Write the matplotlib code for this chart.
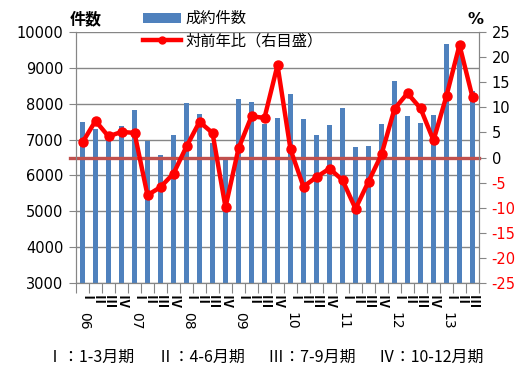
import matplotlib
matplotlib.use("Agg")
import matplotlib.pyplot as plt
from matplotlib.lines import Line2D
from matplotlib.patches import Patch
import matplotlib.transforms as mtransforms

# ---- data ----
years = ["06", "07", "08", "09", "10", "11", "12", "13"]
quarters = ["Ⅰ", "Ⅱ", "Ⅲ", "Ⅳ"]
counts = [7500, 7300, 7050, 7380, 7820, 6960, 6580, 7140,
          8020, 7700, 6900, 6440, 8140, 8060, 7440, 7610,
          8260, 7560, 7140, 7420, 7890, 6780, 6810, 7440,
          8640, 7670, 7470, 7690, 9660, 9680, 8360]
yoy = [3.0, 7.3, 4.2, 5.1, 4.9, -7.5, -5.9, -3.2,
       2.2, 7.1, 4.9, -9.9, 1.8, 8.2, 7.9, 18.4,
       1.6, -5.8, -3.9, -2.2, -4.5, -10.2, -4.8, 0.6,
       9.7, 12.8, 9.8, 3.4, 12.3, 22.4, 12.0]
q_labels = [quarters[i % 4] for i in range(len(counts))]
left_ticks = list(range(3000, 10001, 1000))
right_ticks = list(range(-25, 26, 5))
series_names = ["成約件数", "対前年比（右目盛）"]
footnote = "Ⅰ：1-3月期　  Ⅱ：4-6月期　  Ⅲ：7-9月期　  Ⅳ：10-12月期"

JP = ["Noto Sans CJK JP", "DejaVu Sans"]
NUM = ["DejaVu Sans"]
BAR = "#4F81BD"
GRID = "#868686"

W, H = 531, 379
fig = plt.figure(figsize=(W / 100, H / 100), dpi=100)
ax = fig.add_axes([76 / W, 1 - 283 / H, 403 / W, 251 / H])
ax2 = ax.twinx()

x = list(range(len(counts)))
ax.bar(x, counts, width=0.44, color=BAR, zorder=2)
ax.set_ylim(3000, 10000)
ax.set_xlim(-0.5, len(counts) - 0.5)
ax.set_yticks(left_ticks)
ax.yaxis.grid(True, color=GRID, linewidth=1.0, zorder=0)
ax.set_axisbelow(True)
for lab in ax.get_yticklabels():
    lab.set_fontfamily(NUM)
    lab.set_fontsize(10.5)
ax.tick_params(axis="y", length=5, color=GRID, pad=4)

# x ticks at category boundaries
ax.set_xticks([i - 0.5 for i in range(len(counts) + 1)])
ax.set_xticklabels([])
ax.tick_params(axis="x", length=7, color=GRID, direction="out")

for s in ["top"]:
    ax.spines[s].set_visible(False)
    ax2.spines[s].set_visible(False)
for s in ["left", "right", "bottom"]:
    ax.spines[s].set_color(GRID)
    ax2.spines[s].set_color(GRID)

# right axis
ax2.set_ylim(-25, 25)
ax2.set_yticks(right_ticks)
ax2.set_yticklabels([str(v) for v in right_ticks])
for v, lab in zip(right_ticks, ax2.get_yticklabels()):
    lab.set_fontfamily(NUM)
    lab.set_fontsize(10.5)
    lab.set_color("red" if v < 0 else "black")
ax2.tick_params(axis="y", length=5, color=GRID, pad=4)

ax2.axhline(0, xmin=-0.016, xmax=1.0, color="#C0504D", linewidth=2.4,
            clip_on=False, zorder=2)
ax2.plot(x, yoy, color="#FF0000", linewidth=3.2, marker="o", markersize=6.5,
         zorder=3, clip_on=False)

# category labels
trans = mtransforms.blended_transform_factory(ax.transData, fig.transFigure)
for i, q in enumerate(q_labels):
    ax.text(i, 1 - 295 / H, q, rotation=270, ha="center", va="top",
            fontsize=9.5, family=JP, transform=trans, fontweight="bold")
    if i % 4 == 0:
        ax.text(i + 0.1, 1 - 312 / H, years[i // 4], rotation=270, ha="center",
                va="top", fontsize=10, family=NUM, transform=trans)

# titles
fig.text(70 / W, 1 - 19 / H, "件数", fontsize=11.5, fontweight="bold",
         family=JP, va="center", ha="left")
fig.text(468 / W, 1 - 19 / H, "%", fontsize=11.5, fontweight="bold",
         family=NUM, va="center", ha="left")

handles = [Patch(facecolor=BAR, edgecolor="none"),
           Line2D([0], [0], color="#FF0000", linewidth=3.2, marker="o",
                  markersize=5)]
leg = ax2.legend(handles, series_names, loc="upper left",
                 bbox_to_anchor=(143 / W, 1 - 10 / H),
                 bbox_transform=fig.transFigure, frameon=False,
                 prop={"family": JP, "size": 11}, handlelength=2.5,
                 handleheight=0.65, handletextpad=0.3, labelspacing=0.35,
                 borderpad=0, borderaxespad=0)

fig.text(265 / W, 1 - 357 / H, footnote, fontsize=11.5, family=JP,
         ha="center", va="center")

fig.savefig("out.png", dpi=100)
